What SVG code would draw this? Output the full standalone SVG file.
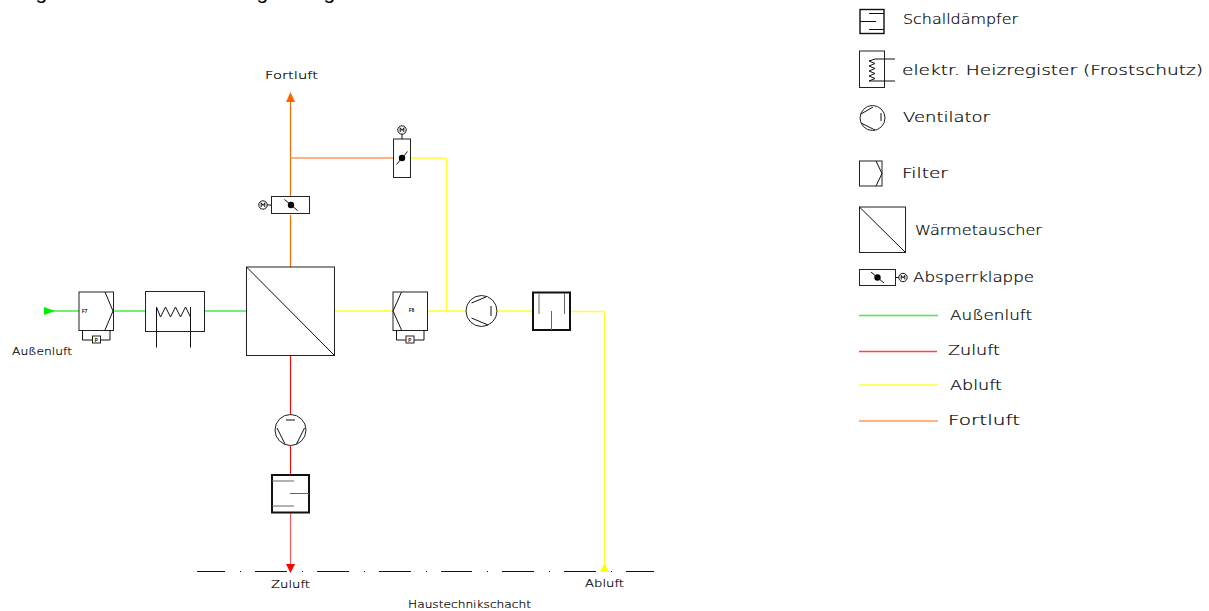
<svg xmlns="http://www.w3.org/2000/svg" width="1209" height="611" viewBox="0 0 1209 611">
<style>
text{font-family:"DejaVu Sans","Liberation Sans",sans-serif;font-weight:200;fill:#000;stroke:#000;stroke-width:.2}
.l{font-size:10px}
.k{font-size:14px}
.tiny{font-family:"Liberation Sans",sans-serif;font-size:4.500px;font-weight:bold;stroke:none}
.g{font-family:"Liberation Sans",sans-serif;font-size:21px;font-weight:400;stroke:none}
.b{fill:#fff;stroke:#222;stroke-width:1}
.t{fill:none;stroke:#111;stroke-width:1}
.h{fill:#fff;stroke:#111;stroke-width:2}
.d{fill:#000;stroke:none}
.gr{fill:none;stroke:#44ee44;stroke-width:1.300}
.re{fill:none;stroke:#f00;stroke-width:1.100}
.ye{fill:none;stroke:#ffff33;stroke-width:1.300}
.or{fill:none;stroke:#ff6600;stroke-width:1.100}
.ol{fill:none;stroke:#ff9955;stroke-width:1.300}
</style>
<defs>
<g id="motor"><circle r="4.200" fill="#fff" stroke="#111"/><path d="M-1.800 2V-2.200L0 .5L1.800 -2.200V2" fill="none" stroke="#111" stroke-width="1"/></g>
<g id="flap"><circle r="3.200" class="d"/><path d="M-6.500 -5.500L6.500 5.500" class="t"/></g>
</defs>

<g id="title"><text class="g" x="35.500" y="-1.500">g</text><text class="g" x="256.500" y="-1.500">g</text><text class="g" x="323.500" y="-1.500">g</text></g>

<g id="connectors">
<path class="gr" d="M50 311H79M114 311H145M205 311H246"/>
<path d="M44 307L55 311L44 315Z" fill="#00ee00"/>
<path class="or" d="M290.500 267V215M290.500 196V100"/>
<path d="M290.500 92L295 102H286Z" fill="#ff6600"/>
<path class="ol" d="M290 158H393"/>
<path class="ye" d="M410 158H446.500V311"/>
<path class="ye" d="M335 311H393M428 311H466M498 311H533M571 311.500H604.500"/>
<path d="M604.500 311V564" fill="none" stroke="#ffff22" stroke-width="1"/>
<path d="M604.500 563L609 572H600Z" fill="#ffff00"/>
<path class="re" d="M290.500 356V415M290.500 445V475"/>
<path d="M290.500 513V565" fill="none" stroke="#f55" stroke-width="1.100"/>
<path d="M290.500 573L286 564H295Z" fill="#f00"/>
</g>

<g id="wall"><path d="M197 571.500H225M240 571.500H241M255 571.500H287M302 571.500H303M317 571.500H349M364 571.500H365M379 571.500H411M426 571.500H427M441 571.500H472M487 571.500H488M502 571.500H534M549 571.500H550M564 571.500H596M611 571.500H612M626 571.500H654" class="t"/></g>

<g id="filter-f7"><rect x="79" y="292" width="34.500" height="38.500" class="b"/><path class="t" d="M105 292L113 311L105 330M82.500 330V340H110V330"/><rect x="92.500" y="336" width="8" height="7" class="b"/><text class="tiny" x="94.700" y="341.500">P</text><text class="tiny" x="82" y="313">F7</text></g>
<g id="heater"><rect x="145.500" y="291.500" width="59" height="40" class="b"/><path class="t" d="M156.500 307L160.500 317L165.500 307L170.500 317L175.500 307L180.500 317L185.500 307L190.500 317V307" stroke-linejoin="round"/><path class="t" d="M156.500 307V347.500M190.500 307V347.500"/></g>
<g id="hx"><rect x="246.500" y="267" width="88" height="88.500" class="b"/><path class="t" d="M246.500 267L334.500 355.500"/></g>
<g id="damper-1"><rect x="271.500" y="196.500" width="38" height="17" class="b"/><use href="#flap" x="291" y="205"/><path class="t" d="M267 205H271.500"/><use href="#motor" x="263" y="205"/></g>
<g id="damper-2"><rect x="393.500" y="139" width="17" height="38.500" class="b"/><use href="#flap" x="402" y="158" transform="rotate(90 402 158)"/><path class="t" d="M402 134V139"/><use href="#motor" x="402" y="130"/></g>
<g id="filter-f6"><rect x="393" y="292" width="34.500" height="38.500" class="b"/><path class="t" d="M401.500 292L393 311L401.500 330M396.500 330V340H424V330"/><rect x="406" y="336" width="8" height="7" class="b"/><text class="tiny" x="408.200" y="341.500">P</text><text class="tiny" x="409" y="312">F6</text></g>
<g id="fan-abluft"><circle cx="481.500" cy="311" r="15.500" class="b"/><path class="t" d="M471.500 303L486 297M471.500 318L488 325M491 306V316"/></g>
<g id="silencer-abluft"><rect x="533" y="292.500" width="37" height="37.500" class="h"/><path d="M539 293V314M564.500 293V314M551.500 311V330" fill="none" stroke="#666"/></g>
<g id="fan-zuluft"><circle cx="290.500" cy="430" r="15.500" class="b"/><path class="t" d="M277 428L285 444M304.500 428L296.500 444M286 420H295"/></g>
<g id="silencer-zuluft"><rect x="272" y="475" width="37" height="37.500" class="h"/><path d="M272 481H294M272 506H294M290 493.500H309" fill="none" stroke="#666"/></g>

<g id="labels">
<text class="l" x="265" y="79" textLength="53" lengthAdjust="spacingAndGlyphs">Fortluft</text>
<text class="l" x="12" y="355" textLength="60" lengthAdjust="spacingAndGlyphs">Außenluft</text>
<text class="l" x="271" y="588" textLength="39" lengthAdjust="spacingAndGlyphs">Zuluft</text>
<text class="l" x="585" y="587" textLength="39" lengthAdjust="spacingAndGlyphs">Abluft</text>
<text class="l" x="408" y="608" textLength="123" lengthAdjust="spacingAndGlyphs">Haustechnikschacht</text>
</g>

<g id="legend-schalldaempfer"><rect x="860" y="9.500" width="24" height="24" fill="#fff" stroke="#111" stroke-width="1.400"/><path class="t" d="M860 21.500H876M869 29.500H884M869 13.500H884"/><text class="k" x="903" y="24" textLength="115" lengthAdjust="spacingAndGlyphs">Schalldämpfer</text></g>
<g id="legend-heizregister"><rect x="859.500" y="51" width="25" height="36.500" class="b"/><path class="t" d="M875 59H895M875 81H895M875 59L869 61L875 63.500L869 66L875 68.500L869 71L875 73.500L869 76L875 78.500L869 81H875"/><text class="k" x="902" y="75" textLength="301" lengthAdjust="spacingAndGlyphs">elektr. Heizregister (Frostschutz)</text></g>
<g id="legend-ventilator"><circle cx="872.500" cy="118" r="12.500" class="b"/><path class="t" d="M861 114L873 107M861 123L875 130M881 113V121"/><text class="k" x="903" y="122" textLength="87" lengthAdjust="spacingAndGlyphs">Ventilator</text></g>
<g id="legend-filter"><rect x="859.500" y="161" width="22.500" height="25" class="b"/><path class="t" d="M876 161L882 173.500L876 186"/><text class="k" x="902" y="178" textLength="46" lengthAdjust="spacingAndGlyphs">Filter</text></g>
<g id="legend-waermetauscher"><rect x="859.500" y="207" width="46" height="45.500" class="b"/><path class="t" d="M859.500 207L905.500 252.500"/><text class="k" x="915" y="235" textLength="127" lengthAdjust="spacingAndGlyphs">Wärmetauscher</text></g>
<g id="legend-klappe"><rect x="859.500" y="269.500" width="36" height="16" class="b"/><use href="#flap" x="877.500" y="277.500"/><path class="t" d="M895.500 277.500H899"/><use href="#motor" x="903" y="277.500"/><text class="k" x="913" y="282" textLength="121" lengthAdjust="spacingAndGlyphs">Absperrklappe</text></g>
<g id="legend-lines">
<path class="gr" d="M859 315.500H938"/><text class="k" x="950" y="320" textLength="82" lengthAdjust="spacingAndGlyphs">Außenluft</text>
<path class="re" style="stroke:#f44;stroke-width:1.300" d="M859 351.500H937"/><text class="k" x="948" y="355" textLength="52" lengthAdjust="spacingAndGlyphs">Zuluft</text>
<path class="ye" d="M859 385H938"/><text class="k" x="950" y="390" textLength="52" lengthAdjust="spacingAndGlyphs">Abluft</text>
<path class="ol" d="M859 421H938"/><text class="k" x="948" y="425" textLength="72" lengthAdjust="spacingAndGlyphs">Fortluft</text>
</g>
</svg>
